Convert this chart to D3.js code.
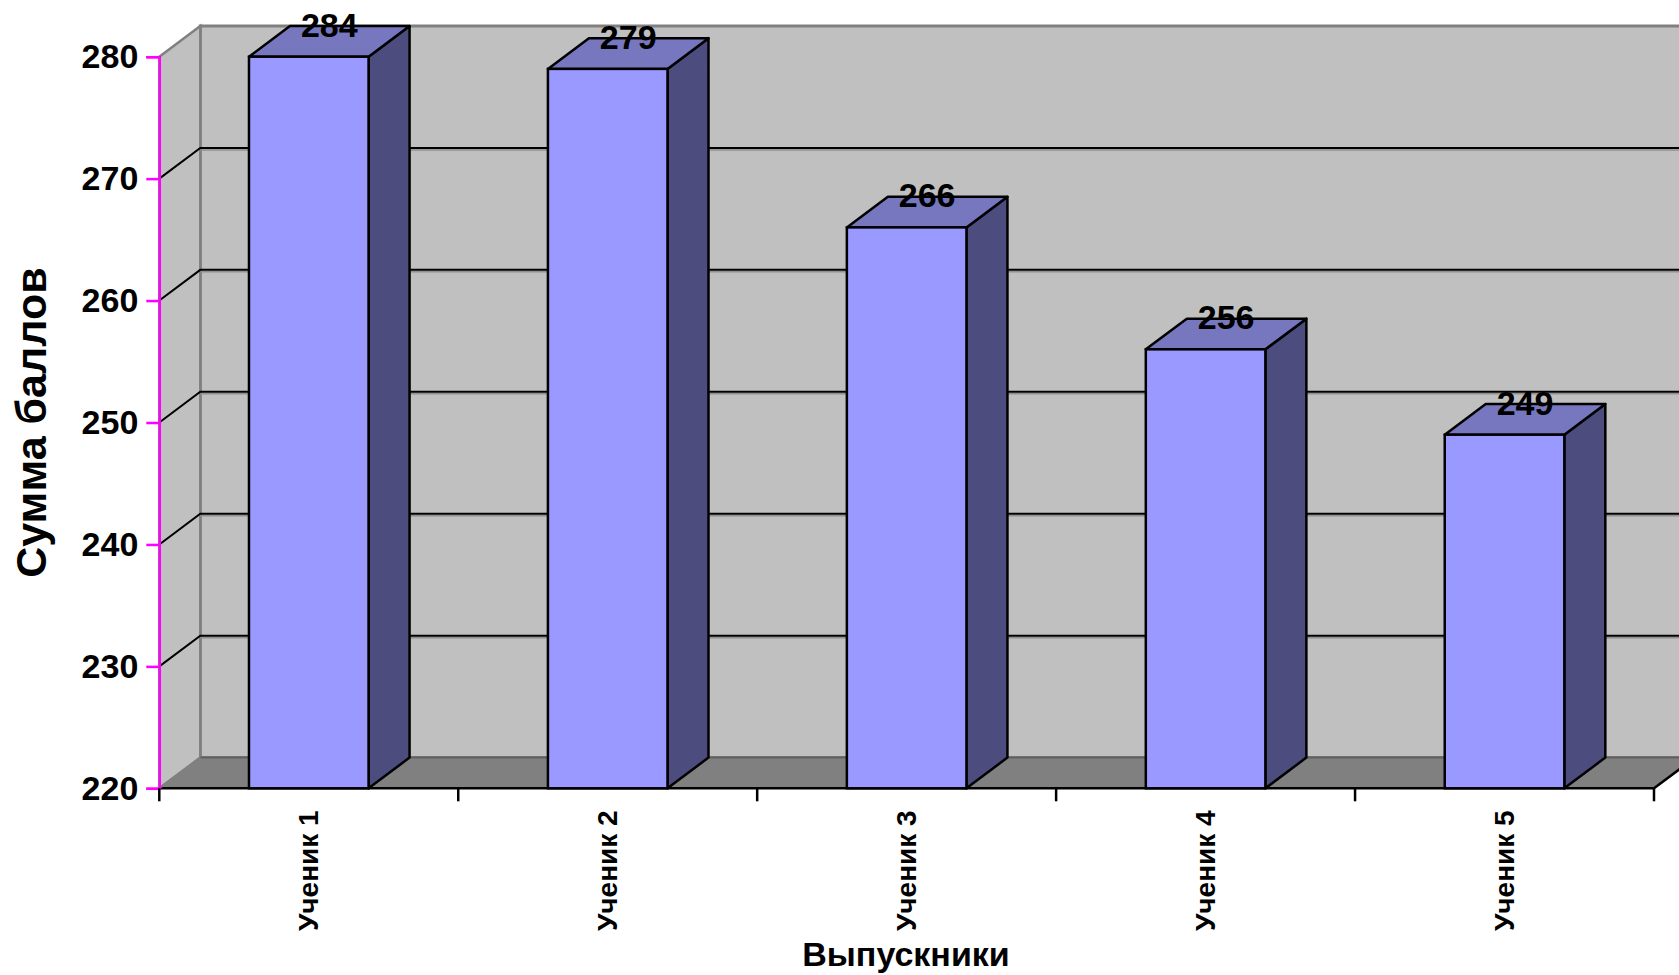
<!DOCTYPE html>
<html>
<head>
<meta charset="utf-8">
<script src="https://cdn.jsdelivr.net/npm/d3@7/dist/d3.min.js"></script>
<style>
  body { margin: 0; background: #fff; }
  text { font-family: "Liberation Sans", Arial, sans-serif; font-weight: bold; }
</style>
</head>
<body>
<svg id="chart" width="1679" height="975"></svg>
<script>
var categories = ["Ученик 1", "Ученик 2", "Ученик 3", "Ученик 4", "Ученик 5"];
var scores = [284, 279, 266, 256, 249];
var yTicks = [220, 230, 240, 250, 260, 270, 280];

var svg = d3.select("svg#chart"),
    plot_left = 159.3,
    plot_right = 1654,
    plot_top = 56.7,
    plot_bottom = 788.3,
    depth = { x: 41, y: -30.7 },
    y_min = 220,
    y_max = 280,
    x_scale = d3.scaleBand().domain(categories).range([plot_left, plot_right]).padding(0),
    y_scale = d3.scaleLinear().domain([y_min, y_max]).range([plot_bottom, plot_top]),
    bw = x_scale.bandwidth();

var data = categories.map((c, i) => ({ name: c, value: scores[i], shown: Math.min(scores[i], y_max) }));

// walls
var walls = svg.append("g");

walls.append("path")
    .attr("d", "M" + (plot_left + depth.x) + "," + (plot_top + depth.y) + "H" + (plot_right + depth.x) +
        "V" + (plot_bottom + depth.y) + "H" + (plot_left + depth.x) + "Z")
    .style("fill", "#c0c0c0")
    .style("stroke", "#808080")
    .style("stroke-width", 3);

walls.append("path")
    .attr("d", "M" + plot_left + "," + plot_top + "L" + (plot_left + depth.x) + "," + (plot_top + depth.y) +
        "V" + (plot_bottom + depth.y) + "L" + plot_left + "," + plot_bottom + "Z")
    .style("fill", "#c0c0c0")
    .style("stroke", "#808080")
    .style("stroke-width", 2.5);

// gridlines
var grid = walls.selectAll(".grid")
    .data(yTicks.filter(t => t > y_min && t < y_max))
    .enter()
    .append("g");

grid.append("line")
    .attr("x1", plot_left + depth.x)
    .attr("x2", plot_right + depth.x)
    .attr("y1", t => y_scale(t) + depth.y + 2)
    .attr("y2", t => y_scale(t) + depth.y + 2)
    .style("stroke", "#909090")
    .style("stroke-width", 1.5);

grid.append("path")
    .attr("d", t => "M" + plot_left + "," + y_scale(t) + "l" + depth.x + "," + depth.y + "H" + (plot_right + depth.x))
    .style("fill", "none")
    .style("stroke", "#000")
    .style("stroke-width", 2);

// floor
walls.append("path")
    .attr("d", "M" + plot_left + "," + plot_bottom + "L" + (plot_left + depth.x) + "," + (plot_bottom + depth.y) +
        "H" + (plot_right + depth.x) + "L" + plot_right + "," + plot_bottom + "Z")
    .style("fill", "#808080")
    .style("stroke", "none");

walls.append("line")
    .attr("x1", plot_left + depth.x).attr("x2", plot_right + depth.x)
    .attr("y1", plot_bottom + depth.y).attr("y2", plot_bottom + depth.y)
    .style("stroke", "#606060")
    .style("stroke-width", 2);

walls.append("path")
    .attr("d", "M" + plot_left + "," + plot_bottom + "H" + plot_right + "l" + depth.x + "," + depth.y)
    .style("fill", "none")
    .style("stroke", "#000")
    .style("stroke-width", 2.5);

walls.append("line")
    .attr("x1", plot_left).attr("y1", plot_bottom)
    .attr("x2", plot_left + depth.x).attr("y2", plot_bottom + depth.y)
    .style("stroke", "#808080")
    .style("stroke-width", 2);

// bars
var bars = svg.append("g")
    .selectAll(".bar")
    .data(data)
    .enter()
    .append("g")
    .attr("class", "bar");

function x0(d) { return x_scale(d.name) + bw * 0.3; }
function x1(d) { return x_scale(d.name) + bw * 0.7; }

bars.append("path")
    .attr("d", d => "M" + x1(d) + "," + plot_bottom + "V" + y_scale(d.shown) +
        "l" + depth.x + "," + depth.y + "V" + (plot_bottom + depth.y) + "Z")
    .style("fill", "#4c4c7f")
    .style("stroke", "#000")
    .style("stroke-width", 2.5)
    .style("stroke-linejoin", "round");

bars.append("path")
    .attr("d", d => "M" + x0(d) + "," + y_scale(d.shown) + "l" + depth.x + "," + depth.y +
        "H" + (x1(d) + depth.x) + "L" + x1(d) + "," + y_scale(d.shown) + "Z")
    .style("fill", "#7777c0")
    .style("stroke", "#000")
    .style("stroke-width", 2.5)
    .style("stroke-linejoin", "round");

bars.append("rect")
    .attr("x", x0)
    .attr("y", d => y_scale(d.shown))
    .attr("width", bw * 0.4)
    .attr("height", d => plot_bottom - y_scale(d.shown))
    .style("fill", "#9999ff")
    .style("stroke", "#000")
    .style("stroke-width", 2.5);

bars.append("text")
    .attr("x", d => x_scale(d.name) + bw / 2 + depth.x / 2)
    .attr("y", d => y_scale(d.shown) - 20)
    .style("text-anchor", "middle")
    .style("font-size", "34px")
    .style("fill", "#000")
    .text(d => d.value);

// y axis
var y_axis = d3.axisLeft(y_scale).tickValues(yTicks).tickSize(13).tickPadding(8);
var gy = svg.append("g")
    .attr("transform", "translate(" + plot_left + ",0)")
    .call(y_axis);
gy.select(".domain").style("stroke", "#ff00ff").style("stroke-width", 2.5);
gy.selectAll(".tick line").style("stroke", "#ff00ff").style("stroke-width", 2.5);
gy.selectAll(".tick text")
    .style("font-size", "34px")
    .style("font-family", "'Liberation Sans', Arial, sans-serif")
    .style("font-weight", "bold")
    .style("fill", "#000");

// x axis boundary ticks
svg.append("g")
    .selectAll("line")
    .data(categories.map(c => x_scale(c)).concat([plot_right]))
    .enter()
    .append("line")
    .attr("x1", d => d).attr("x2", d => d)
    .attr("y1", plot_bottom).attr("y2", plot_bottom + 13)
    .style("stroke", "#000")
    .style("stroke-width", 2.5);

var x_axis = d3.axisBottom(x_scale).tickSize(0);
var gx = svg.append("g")
    .attr("transform", "translate(0," + plot_bottom + ")")
    .call(x_axis);
gx.select(".domain").remove();
gx.selectAll(".tick text")
    .attr("transform", "rotate(-90)")
    .attr("x", -22)
    .attr("y", 9)
    .attr("dy", 0)
    .style("text-anchor", "end")
    .style("font-size", "28px")
    .style("font-family", "'Liberation Sans', Arial, sans-serif")
    .style("font-weight", "bold")
    .style("fill", "#000");

// titles
svg.append("text")
    .attr("transform", "translate(46," + (plot_top + plot_bottom) / 2 + ") rotate(-90)")
    .style("text-anchor", "middle")
    .style("font-size", "43px")
    .style("fill", "#000")
    .text("Сумма баллов");

svg.append("text")
    .attr("x", 906)
    .attr("y", 966)
    .style("text-anchor", "middle")
    .style("font-size", "34px")
    .style("fill", "#000")
    .text("Выпускники");
</script>
</body>
</html>
